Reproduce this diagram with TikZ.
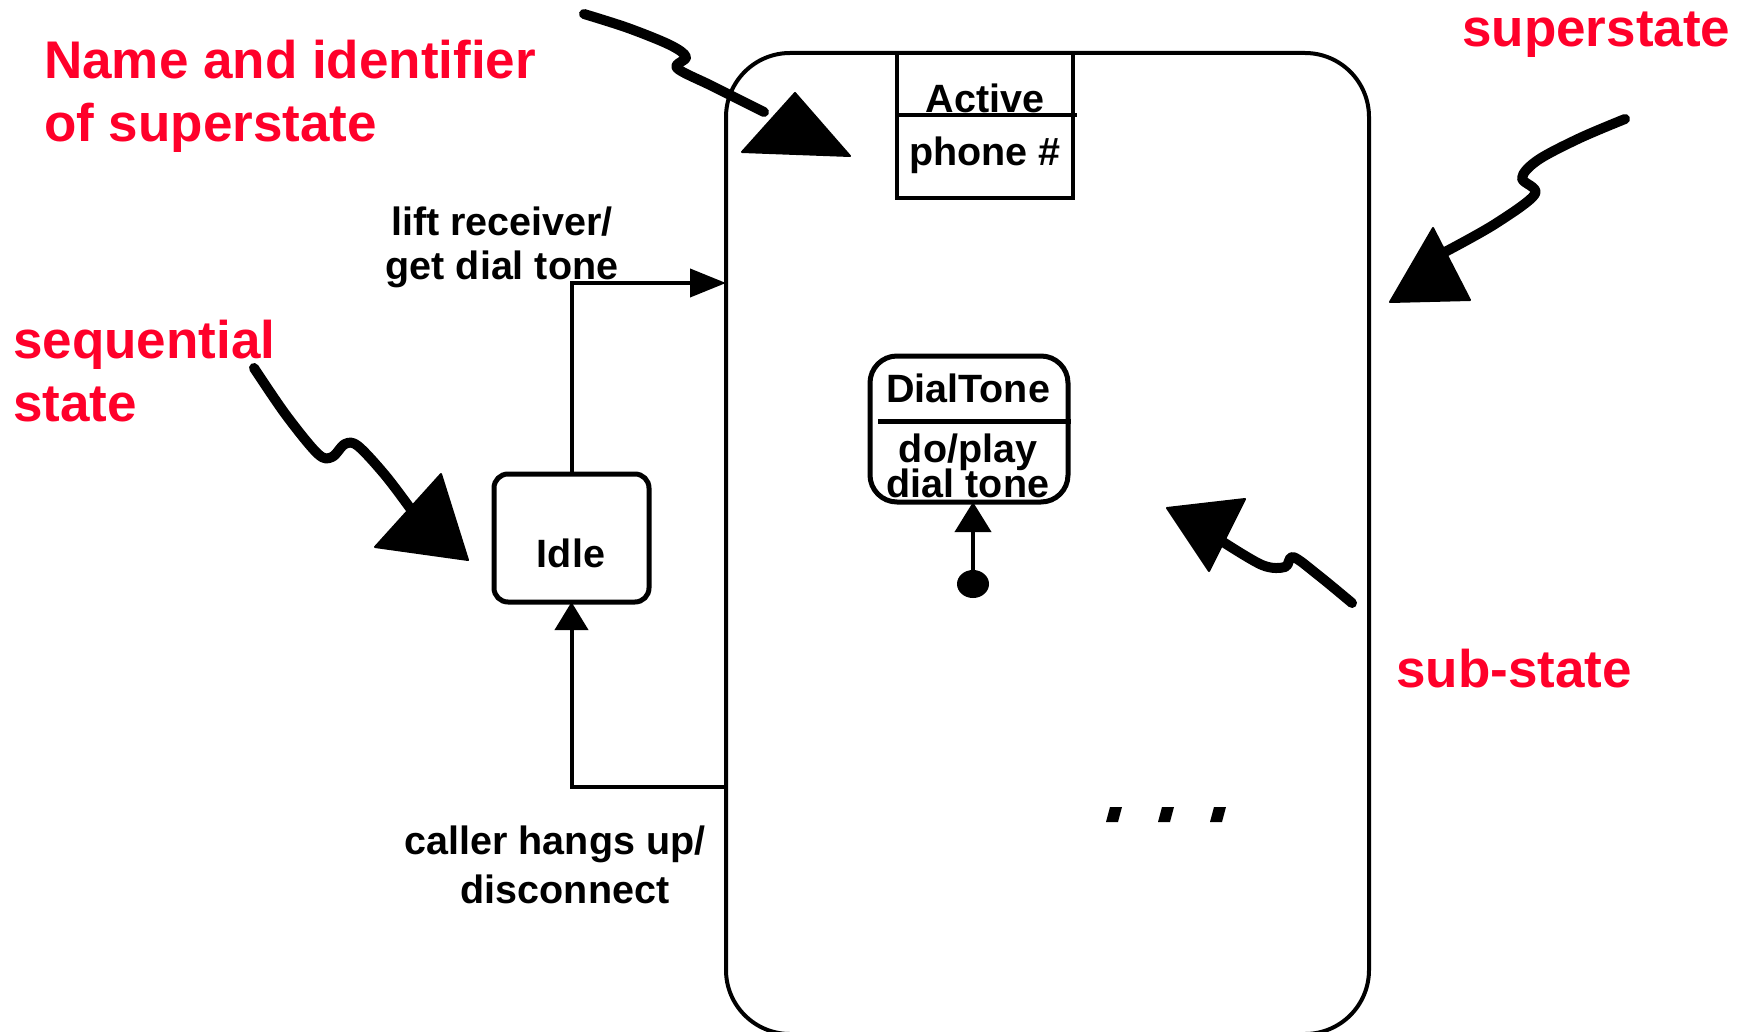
\documentclass[tikz,border=0pt]{standalone}
\usepackage{fontspec}
\setmainfont{Liberation Sans}
\usetikzlibrary{arrows.meta,shapes.geometric}
\definecolor{notered}{RGB}{255,0,42}
\begin{document}
\begin{tikzpicture}[x=1pt,y=-1pt,
  note/.style={text=notered, font=\fontsize{53}{60}\selectfont\bfseries, inner sep=0pt, anchor=base west},
  lbl/.style={font=\fontsize{39.5}{44}\selectfont\bfseries, inner sep=0pt, anchor=base},
  box/.style={draw, outer sep=0pt, inner sep=0pt},
  conn/.style={line width=4pt},
  squiggle/.style={line width=10pt, line cap=round, line join=round},
  head/.style={fill, draw, line width=2pt, line join=round},
]
\useasboundingbox (0,0) rectangle (1743,1032);

% superstate (its lower edge runs along the bottom border) and its name compartment
\node[box, line width=4pt, rounded corners=64pt, minimum width=643pt, minimum height=981pt] (super) at (1047.5,543.5) {};
\node[box, line width=4pt, minimum width=176pt, minimum height=145pt] (active) at (985,125.5) {};
\draw[line width=4pt] (active.west |- 0,115) -- ([xshift=4pt]active.east |- 0,115);
\node[lbl] (activeName) at (985,113) {Active};
\node[lbl] (activeId) at (985,166) {phone \#};

% Idle state
\node[box, line width=5pt, rounded corners=14pt, minimum width=155pt, minimum height=128pt] (idle) at (571.5,538) {};
\node[lbl] (idleName) at (571,567) {Idle};

% DialTone sub-state
\node[box, line width=5pt, rounded corners=27pt, minimum width=198pt, minimum height=146pt] (dial) at (969,429) {};
\draw[line width=5pt] ([xshift=8pt]dial.west |- 0,421) -- ([xshift=3pt]dial.east |- 0,421);
\node[lbl] (dialName) at (968,402) {DialTone};
\node[lbl] (dialDo1) at (968,462) {do/play};
\node[lbl] (dialDo2) at (968,497) {dial tone};

% initial pseudo-state
\node[fill, ellipse, minimum width=32pt, minimum height=28pt, inner sep=0pt] (init) at (973,584) {};
\draw[conn, -{Triangle[length=30pt,width=36pt]}] (init.center) -- (init.center |- dial.south);

% transitions
\draw[conn, -{Triangle[length=36pt,width=28pt]}] (idle.north) |- (super.west |- 0,283);
\draw[conn, -{Triangle[length=28pt,width=33pt]}] (super.west |- 0,787) -| (idle.south);
\node[lbl] (liftA) at (502,236) {lift receiver/};
\node[lbl] (liftB) at (502,280) {get dial tone};
\node[lbl] (hangA) at (555,854) {caller hangs up/};
\node[lbl] (hangB) at (565,903) {disconnect};

% further sub-states
\foreach \dx in {0,52,104}
  \fill[xshift=\dx pt] (1106,822) -- (1110,807) -- (1122,807) -- (1118,822) -- cycle;

% explanatory notes
\node[note] (noteName) at (44,79) {Name and identifier};
\node[note] (noteName2) at (44,142) {of superstate};
\node[note] (noteSuper) at (1462,47) {superstate};
\node[note] (noteSeq) at (13,358) {sequential};
\node[note] (noteSeq2) at (13,421) {state};
\node[note] (noteSub) at (1396,687) {sub-state};

% hand-drawn pointers
\draw[squiggle] plot[smooth, tension=0.55] coordinates {(584,14) (628,28) (670,45) (686,57) (677,68) (712,86) (764,112)};
\draw[head] (742,152) -- (795,93) -- (850,156) -- cycle;

\draw[squiggle] plot[smooth, tension=0.55] coordinates {(254,368) (286,415) (318,454) (332,457) (345,444) (358,446) (385,475) (410,508)};
\draw[head] (375,547) -- (441,474) -- (468,560) -- cycle;

\draw[squiggle] plot[smooth, tension=0.55] coordinates {(1625,119) (1580,138) (1538,160) (1522,178) (1535,194) (1495,224) (1445,252)};
\draw[head] (1433,228) -- (1390,302) -- (1470,300) -- cycle;

\draw[squiggle] plot[smooth, tension=0.55] coordinates {(1352,603) (1318,575) (1293,557) (1285,567) (1262,565) (1220,540)};
\draw[head] (1167,508) -- (1245,499) -- (1209,571) -- cycle;
\end{tikzpicture}
\end{document}
